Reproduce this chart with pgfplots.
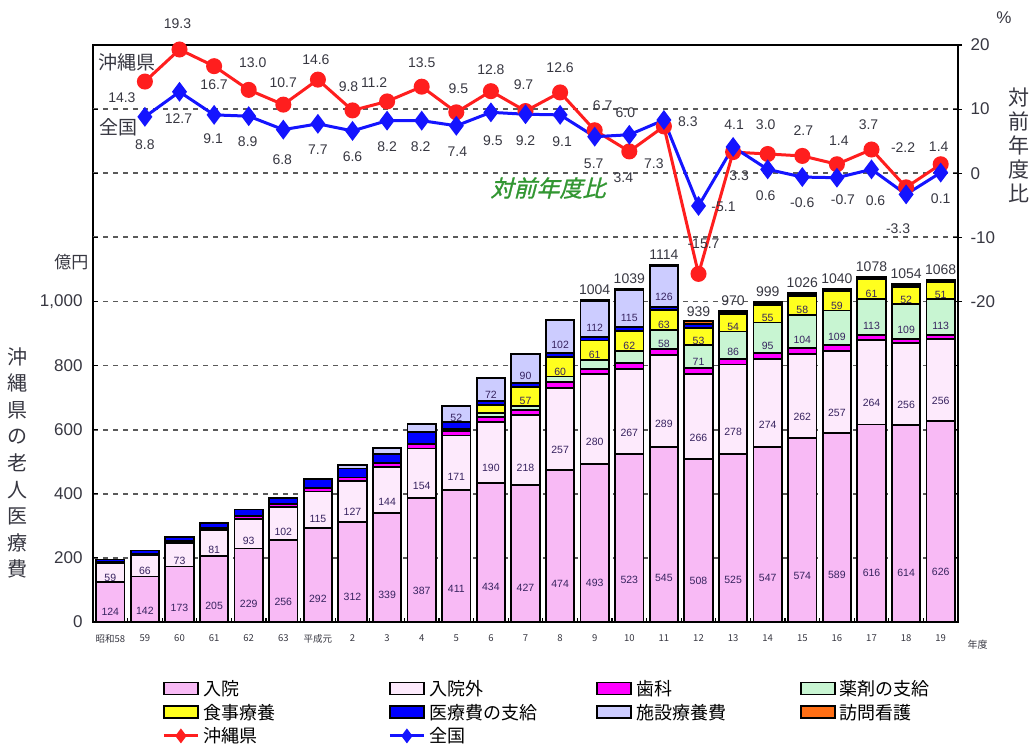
\documentclass[border=0pt]{standalone}
\usepackage{fontspec}
\usepackage{pgfplots}
\usepackage{pgfplotstable}
\pgfplotsset{compat=1.18}
\setmainfont{Liberation Sans}
\newfontfamily\jp{Noto Sans CJK JP}
\newfontfamily\jpslant[FakeSlant=0.25,FakeBold=1.2]{Noto Sans CJK JP}

\definecolor{inpat}{RGB}{248,186,245}
\definecolor{outpat}{RGB}{253,234,252}
\definecolor{dental}{RGB}{255,0,255}
\definecolor{drug}{RGB}{200,245,210}
\definecolor{meal}{RGB}{255,255,30}
\definecolor{cash}{RGB}{0,0,255}
\definecolor{facility}{RGB}{204,204,255}
\definecolor{visit}{RGB}{255,110,20}
\definecolor{okiline}{RGB}{255,30,30}
\definecolor{natline}{RGB}{20,20,255}
\definecolor{numtext}{RGB}{55,35,95}
\definecolor{gridgray}{RGB}{90,90,90}
\definecolor{labgray}{RGB}{55,55,65}
\definecolor{ratiogreen}{RGB}{50,150,50}

% 沖縄県の老人医療費（億円）: A 入院, B 入院外, C 歯科, D 薬剤の支給,
% E 食事療養, F 医療費の支給, G 施設療養費, H 訪問看護, T 合計
\pgfplotstableread{
x A B C D E F G H T
0 124 59 5 0 0 7 0 0 195
1 142 66 6 0 0 9 0 0 223
2 173 73 7 0 0 13 0 0 266
3 205 81 8 0 0 16 0 0 310
4 229 93 9 0 0 20 0 0 351
5 256 102 10 0 0 20 0 0 388
6 292 115 11 0 0 27 0 0 445
7 312 127 12 0 0 28 10 0 489
8 339 144 14 0 0 28 18 0 543
9 387 154 15 0 0 36 25 0 617
10 411 171 15 6 0 20 52 0 675
11 434 190 16 12 24 14 72 0 762
12 427 218 16 14 57 14 90 0 836
13 474 257 17 18 60 14 102 0 942
14 493 280 17 27 61 11 112 3 1004
15 523 267 18 38 62 12 115 4 1039
16 545 289 18 58 63 10 126 5 1114
17 508 266 19 71 53 12 0 10 939
18 525 278 17 86 54 6 0 4 970
19 547 274 18 95 55 6 0 4 999
20 574 262 18 104 58 6 0 4 1026
21 589 257 17 109 59 5 0 4 1040
22 616 264 15 113 61 5 0 4 1078
23 614 256 14 109 52 5 0 4 1054
24 626 256 13 113 51 5 0 4 1068
}\costs

% 対前年度比（%）: r 沖縄県, b 全国, with label offsets in pt
\pgfplotstableread{
x r b rdx rdy bdx bdy
1 14.3 8.8 -23 -16 0 -28
2 19.3 12.7 -2 26 -1 -27
3 16.7 9.1 0 -19 -1 -24
4 13.0 8.9 4 27 -1 -26
5 10.7 6.8 0 22 -1 -30
6 14.6 7.7 -2 20 0 -26
7 9.8 6.6 -4 24 0 -26
8 11.2 8.2 -13 19 0 -26
9 13.5 8.2 0 24 -1 -26
10 9.5 7.4 2 24 1 -26
11 12.8 9.5 0 21 2 -28
12 9.7 9.2 -2 26 0 -26
13 12.6 9.1 0 25 2 -27
14 6.7 5.7 8 25 -1 -27
15 3.4 6.0 -6 -26 -4 22
16 7.3 8.3 -10 -37 24 -2
17 -15.7 -5.1 5 30 25 -1
18 3.3 4.1 6 -24 1 22
19 3.0 0.6 -2 29 -2 -26
20 2.7 -0.6 1 25 0 -26
21 1.4 -0.7 2 24 6 -22
22 3.7 0.6 -3 25 4 -31
23 -2.2 -3.3 -3 40 -8 -34
24 1.4 0.1 -2 18 0 -26
}\growth

\pgfplotsset{
  segbar/.style={fill=#1, draw=black, line width=1.8pt,
    legend image code/.code={\draw[##1, line width=1.6pt] (0pt,-6pt) rectangle (34pt,6pt);}},
  lineleg/.style={
    legend image code/.code={\draw[##1, mark=none] (0pt,0pt) -- (34pt,0pt);
      \draw[##1] plot coordinates {(17pt,0pt)};}},
  % the node sits on top of its segment; move it down to the segment's middle
  seglab/.style={
    visualization depends on={\thisrow{#1} \as \rawv},
    nodes near coords={\ifdim\rawv pt>45pt \pgfmathprintnumber{\rawv}\fi},
    nodes near coords style={anchor=center, inner sep=0pt,
      font=\fontsize{10.5}{10.5}\selectfont, text=numtext,
      shift={(axis direction cs:0,-\rawv/4)}}},
  ratelab/.style 2 args={
    visualization depends on={\thisrow{#1} \as \dx},
    visualization depends on={\thisrow{#2} \as \dy},
    nodes near coords={\pgfmathprintnumber[fixed,fixed zerofill,precision=1]{\pgfplotspointmeta}},
    nodes near coords style={anchor=center, inner sep=0pt, xshift=\dx pt, yshift=\dy pt,
      font=\fontsize{14}{14}\selectfont, text=labgray}},
}

\begin{document}
\begin{tikzpicture}
\useasboundingbox (0,0) rectangle (1032pt,744pt);

\begin{axis}[
  at={(93pt,122pt)}, anchor=south west,
  scale only axis, width=865pt, height=577pt,
  xmin=-0.5, xmax=24.5, ymin=0, ymax=1800,
  ybar stacked, bar width=0.82,
  axis line style={line width=1.8pt},
  /pgf/number format/assume math mode=true,
  xtick={0,...,24},
  xticklabels={昭和58,59,60,61,62,63,平成元,2,3,4,5,6,7,8,9,10,11,12,13,14,15,16,17,18,19},
  xticklabel style={font=\jp\fontsize{9.5}{9.5}\selectfont, text=labgray, yshift=-9pt},
  every major x tick/.append style={draw=none},
  minor xtick={-0.5,0.5,...,24.5},
  minor tick length=4pt, xtick pos=bottom,
  ytick={0,200,400,600,800,1000},
  extra y ticks={1200,1400,1600},
  extra y tick labels={},
  extra y tick style={grid=major},
  ymajorgrids,
  grid style={gridgray, line width=1.8pt, dash pattern=on 5pt off 5pt},
  yticklabel style={font=\fontsize{17}{17}\selectfont, text=labgray, xshift=-7pt},
  tick align=inside, major tick length=5pt,
  tick style={black, line width=1.2pt},
  legend columns=4,
  legend cell align=left,
  legend style={at={(axis description cs:0.08,-0.099)}, anchor=north west,
    draw=none, fill=none, inner sep=0pt,
    font=\jp\fontsize{18}{18}\selectfont,
    nodes={inner sep=1pt}, row sep=5pt, column sep=0pt,
    /tikz/every odd column/.append style={column sep=3pt}},
]
\addplot[segbar=inpat, seglab=A] table[x=x, y=A] {\costs};
\addlegendentry{\makebox[184pt][l]{入院}}
\addplot[segbar=outpat, seglab=B] table[x=x, y=B] {\costs};
\addlegendentry{\makebox[166pt][l]{入院外}}
\addplot[segbar=dental] table[x=x, y=C] {\costs};
\addlegendentry{\makebox[163pt][l]{歯科}}
\addplot[segbar=drug, seglab=D] table[x=x, y=D] {\costs};
\addlegendentry{\makebox[100pt][l]{薬剤の支給}}
\addplot[segbar=meal, seglab=E] table[x=x, y=E] {\costs};
\addlegendentry{\makebox[184pt][l]{食事療養}}
\addplot[segbar=cash] table[x=x, y=F] {\costs};
\addlegendentry{\makebox[166pt][l]{医療費の支給}}
\addplot[segbar=facility, seglab=G] table[x=x, y=G] {\costs};
\addlegendentry{\makebox[163pt][l]{施設療養費}}
\addplot[segbar=visit,
  visualization depends on={\thisrow{T} \as \totv},
  nodes near coords={\pgfmathprintnumber[1000 sep={}]{\totv}},
  nodes near coords style={anchor=south, inner sep=0pt, yshift=5pt,
    font=\fontsize{14}{14}\selectfont, text=labgray}]
  table[x=x, y=H] {\costs};
\addlegendentry{\makebox[100pt][l]{訪問看護}}
\addlegendimage{okiline, line width=3pt, mark=diamond*, mark size=5pt, lineleg}
\addlegendentry{\makebox[184pt][l]{沖縄県}}
\addlegendimage{natline, line width=3pt, mark=diamond*, mark size=5pt, lineleg}
\addlegendentry{\makebox[166pt][l]{全国}}
\end{axis}

\begin{axis}[
  at={(93pt,122pt)}, anchor=south west,
  scale only axis, width=865pt, height=577pt,
  xmin=-0.5, xmax=24.5, ymin=-70, ymax=20,
  axis x line=none, axis y line*=right,
  axis line style={line width=1.8pt},
  /pgf/number format/assume math mode=true,
  ytick={-20,-10,0,10,20},
  yticklabel style={font=\fontsize{17}{17}\selectfont, text=labgray, xshift=5pt},
  tick align=outside, major tick length=4pt,
  tick style={black, line width=1.2pt},
  clip=false,
]
\addplot[okiline, line width=3pt, mark=*, mark size=6.5pt,
  mark options={fill=okiline, draw=okiline}, ratelab={rdx}{rdy}]
  table[x=x, y=r] {\growth};
\addplot[natline, line width=3pt, mark=diamond*, mark size=7.5pt,
  mark options={fill=natline, draw=natline}, ratelab={bdx}{bdy}]
  table[x=x, y=b] {\growth};
\end{axis}

% Axis captions and series names
\node[anchor=east, font=\jp\fontsize{17}{17}\selectfont, text=labgray] at (92pt,482pt) {億円};
\node[align=center, font=\jp\fontsize{20}{26.6}\selectfont, text=labgray] at (17pt,281pt)
  {沖\\縄\\県\\の\\老\\人\\医\\療\\費};
\node[font=\fontsize{17}{17}\selectfont, text=labgray] at (1004pt,726pt) {\%};
\node[align=center, font=\jp\fontsize{21}{24}\selectfont, text=labgray] at (1019pt,599pt)
  {対\\前\\年\\度\\比};
\node[anchor=west, font=\jp\fontsize{10}{10}\selectfont, text=labgray] at (964pt,99pt) {年度};
\node[anchor=west, font=\jp\fontsize{19}{19}\selectfont, text=labgray] at (95pt,682pt) {沖縄県};
\node[anchor=west, font=\jp\fontsize{19}{19}\selectfont, text=labgray] at (96pt,617pt) {全国};
\node[font=\jpslant\fontsize{23}{23}\selectfont, text=ratiogreen] at (548pt,556pt) {対前年度比};
\end{tikzpicture}
\end{document}
